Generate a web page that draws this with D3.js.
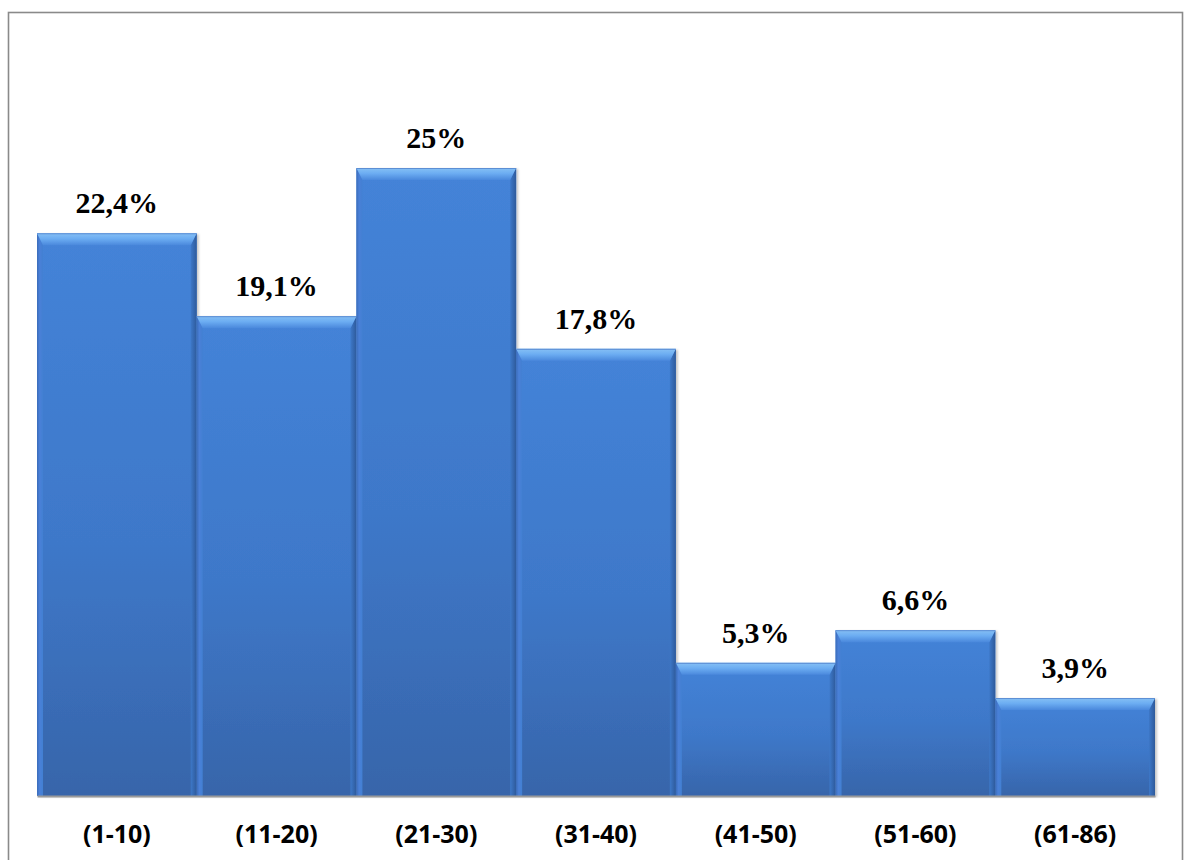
<!DOCTYPE html>
<html>
<head>
<meta charset="utf-8">
<script src="https://cdn.jsdelivr.net/npm/d3@7/dist/d3.min.js"></script>
<style>
  html, body { margin: 0; padding: 0; background: #fff; }
  svg { display: block; }
</style>
</head>
<body>
<svg id="chart" width="1185" height="860"></svg>
<script>
// Age groups and their share (%)
const categories = ["(1-10)", "(11-20)", "(21-30)", "(31-40)", "(41-50)", "(51-60)", "(61-86)"];
const values = [22.4, 19.1, 25, 17.8, 5.3, 6.6, 3.9];
const valueLabels = ["22,4%", "19,1%", "25%", "17,8%", "5,3%", "6,6%", "3,9%"];

const W = 1185, H = 860;
const plot = { left: 37, right: 1155, top: 168, bottom: 796 };

const svg = d3.select("#chart");
const defs = svg.append("defs");

// Body gradient of each bar
const body = defs.append("linearGradient").attr("id", "barBody")
  .attr("x1", 0).attr("y1", 0).attr("x2", 0).attr("y2", 1);
body.append("stop").attr("offset", "0%").attr("stop-color", "#4483d8");
body.append("stop").attr("offset", "55%").attr("stop-color", "#3e78c9");
body.append("stop").attr("offset", "100%").attr("stop-color", "#3765aa");

// Top bevel highlight
const topBevel = defs.append("linearGradient").attr("id", "bevelTop")
  .attr("x1", 0).attr("y1", 0).attr("x2", 0).attr("y2", 1);
topBevel.append("stop").attr("offset", "0%").attr("stop-color", "#86c0f5");
topBevel.append("stop").attr("offset", "45%").attr("stop-color", "#6cadf2");
topBevel.append("stop").attr("offset", "100%").attr("stop-color", "#4a88dc");

// Left bevel
const leftBevel = defs.append("linearGradient").attr("id", "bevelLeft")
  .attr("x1", 0).attr("y1", 0).attr("x2", 1).attr("y2", 0);
leftBevel.append("stop").attr("offset", "0%").attr("stop-color", "#3a6cba");
leftBevel.append("stop").attr("offset", "45%").attr("stop-color", "#4a80d8");
leftBevel.append("stop").attr("offset", "100%").attr("stop-color", "#4280d2");

// Right bevel
const rightBevel = defs.append("linearGradient").attr("id", "bevelRight")
  .attr("x1", 0).attr("y1", 0).attr("x2", 1).attr("y2", 0);
rightBevel.append("stop").attr("offset", "0%").attr("stop-color", "#3d78c8");
rightBevel.append("stop").attr("offset", "100%").attr("stop-color", "#2e5a9b");

// Soft shadow to the right of each bar
const shadow = defs.append("filter").attr("id", "shadow")
  .attr("x", "-5%").attr("y", "-5%").attr("width", "115%").attr("height", "115%");
shadow.append("feDropShadow").attr("dx", 2).attr("dy", 1).attr("stdDeviation", 1.2)
  .attr("flood-color", "#000").attr("flood-opacity", 0.22);

// Outer frame
svg.append("rect")
  .attr("x", 8.5).attr("y", 12.5).attr("width", 1174).attr("height", 870)
  .attr("fill", "#fff").attr("stroke", "#8a8a8a").attr("stroke-width", 1.6);

const x = d3.scaleBand().domain(categories).range([plot.left, plot.right]).padding(0);
const y = d3.scaleLinear().domain([0, 25]).range([plot.bottom, plot.top]);

const data = categories.map((c, i) => ({ c, v: values[i], label: valueLabels[i] }));

const bars = svg.append("g").selectAll("g.bar").data(data).join("g").attr("class", "bar");

const bevT = 12, bevS = 6;

bars.each(function (d) {
  const g = d3.select(this);
  const x0 = x(d.c), x1 = x0 + x.bandwidth();
  const y0 = y(d.v), y1 = y(0);
  g.append("rect")
    .attr("x", x0).attr("y", y0).attr("width", x1 - x0).attr("height", y1 - y0)
    .attr("fill", "url(#barBody)").attr("filter", "url(#shadow)");
  // left bevel
  g.append("path")
    .attr("d", `M${x0},${y0} L${x0 + bevS},${y0 + bevT} L${x0 + bevS},${y1} L${x0},${y1} Z`)
    .attr("fill", "url(#bevelLeft)");
  // right bevel
  g.append("path")
    .attr("d", `M${x1},${y0} L${x1 - bevS},${y0 + bevT} L${x1 - bevS},${y1} L${x1},${y1} Z`)
    .attr("fill", "url(#bevelRight)");
  // top bevel
  g.append("path")
    .attr("d", `M${x0},${y0} L${x1},${y0} L${x1 - bevS},${y0 + bevT} L${x0 + bevS},${y0 + bevT} Z`)
    .attr("fill", "url(#bevelTop)");
  // thin top edge
  g.append("line")
    .attr("x1", x0).attr("x2", x1).attr("y1", y0 + 0.5).attr("y2", y0 + 0.5)
    .attr("stroke", "#5d8fd4").attr("stroke-width", 1);
});

// Category axis
const xAxis = d3.axisBottom(x).tickSize(0).tickPadding(34);
const axisG = svg.append("g").attr("transform", `translate(0,${plot.bottom})`).call(xAxis);
axisG.select(".domain").attr("stroke", "#9a9a9a").attr("stroke-width", 2);
axisG.selectAll(".tick text")
  .attr("font-family", "'Open Sans', sans-serif")
  .attr("font-weight", "bold")
  .attr("font-size", 25)
  .attr("fill", "#000")
  .attr("dy", "0")
  .attr("y", 47);

// Value labels
svg.append("g").selectAll("text").data(data).join("text")
  .attr("x", d => x(d.c) + x.bandwidth() / 2)
  .attr("y", d => y(d.v) - 20)
  .attr("text-anchor", "middle")
  .attr("font-family", "'Liberation Serif', serif")
  .attr("font-weight", "bold")
  .attr("font-size", 30)
  .attr("fill", "#000")
  .text(d => d.label);
</script>
</body>
</html>
